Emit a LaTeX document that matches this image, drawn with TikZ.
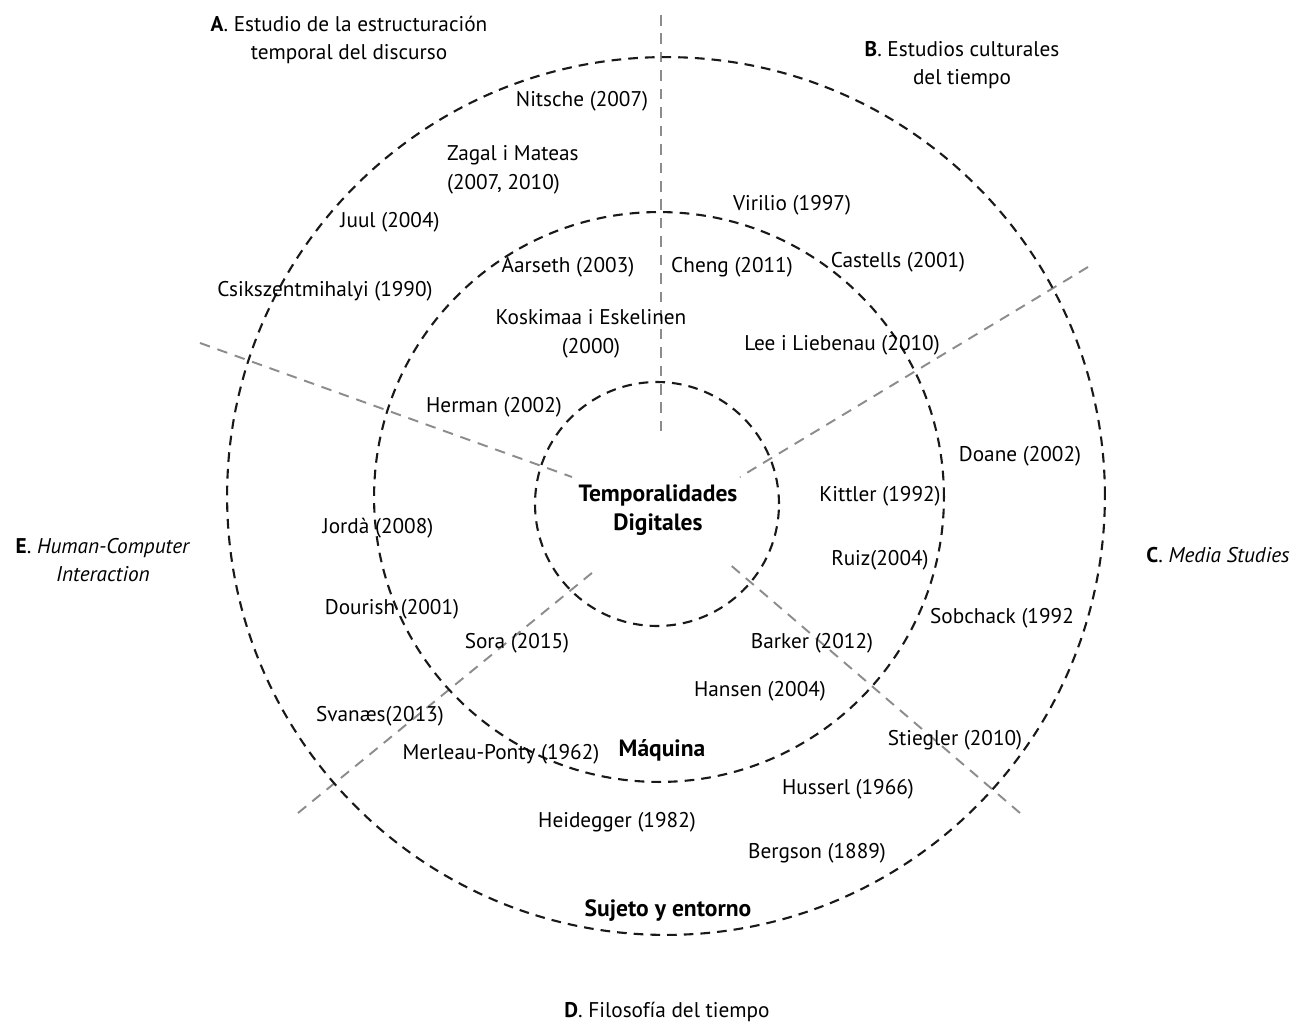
\documentclass[tikz,border=0pt]{standalone}
\usepackage{fontspec}
\setmainfont{PT Sans}
\begin{document}
\begin{tikzpicture}[x=0.02cm,y=-0.02cm,
  ring/.style = {draw=black!90,line width=1.2pt,dash pattern=on 5.5pt off 4pt},
  axis/.style = {draw=black!45,line width=1.1pt,dash pattern=on 6pt off 4.5pt},
  author/.style = {inner sep=1pt,text=black,font=\fontsize{12.1}{16.3}\selectfont},
  field/.style = {author,align=center},
  core/.style = {author,align=center,font=\fontsize{13.4}{16.3}\selectfont\bfseries}]
\useasboundingbox (0,0) rectangle (1299,1024);
\coordinate (outer) at (666,496);
\coordinate (middle) at (659,497);
\coordinate (inner) at (657,504);
\coordinate (nA) at (661,15);   \coordinate (sA) at (661,432);
\coordinate (nB) at (1088,267); \coordinate (sB) at (740,477);
\coordinate (nC) at (1020,813); \coordinate (sC) at (727,562);
\coordinate (nD) at (298,813);  \coordinate (sD) at (598,568);
\coordinate (nE) at (200,343);  \coordinate (sE) at (572,477);
\foreach \s in {A,B,C,D,E}
    \draw[axis] (n\s) -- (s\s);
\draw[ring] (outer) circle[radius=8.78cm];
\draw[ring] (middle) circle[radius=5.7cm];
\draw[ring] (inner) circle[radius=2.44cm];
\node[field] (fieldA) at (349,40) {\textbf{A}. Estudio de la estructuración\\temporal del discurso};
\node[field] (fieldB) at (962,65) {\textbf{B}. Estudios culturales\\del tiempo};
\node[field] (fieldC) at (1218,555) {\textbf{C}. \textit{Media Studies}};
\node[field] (fieldD) at (667,1012) {\textbf{D}. Filosofía del tiempo};
\node[field] (fieldE) at (103,560) {\textbf{E}. \textit{Human-Computer}\\\textit{Interaction}};
\node[core] (temporal) at (658,510) {Temporalidades\\Digitales};
\node[core] (maquina) at (662,750) {Máquina};
\node[core] (sujeto) at (668,911) {Sujeto y entorno};
\node[author,align=left,anchor=west] (zagal) at (445,170) {Zagal i Mateas\\(2007, 2010)};
\node[field] (koskimaa) at (591,334) {Koskimaa i Eskelinen\\(2000)};
\foreach \x/\y/\t [count=\k] in {582/101/Nitsche (2007), 390/222/Juul (2004),
    325/291/Csikszentmihalyi (1990), 792/205/Virilio (1997), 568/267/Aarseth (2003),
    732/267/Cheng (2011), 898/262/Castells (2001), 842/345/Lee i Liebenau (2010),
    494/407/Herman (2002), 1020/456/Doane (2002), 880/496/Kittler (1992),
    378/528/Jordà (2008), 880/560/Ruiz(2004), 392/609/Dourish (2001),
    1002/618/Sobchack (1992, 517/643/Sora (2015), 812/643/Barker (2012),
    760/691/Hansen (2004), 380/716/Svanæs(2013), 955/740/Stiegler (2010),
    501/754/Merleau-Ponty (1962), 848/789/Husserl (1966), 617/822/Heidegger (1982),
    817/853/Bergson (1889)}
    \node[author] (author\k) at (\x,\y) {\t};
\end{tikzpicture}
\end{document}
